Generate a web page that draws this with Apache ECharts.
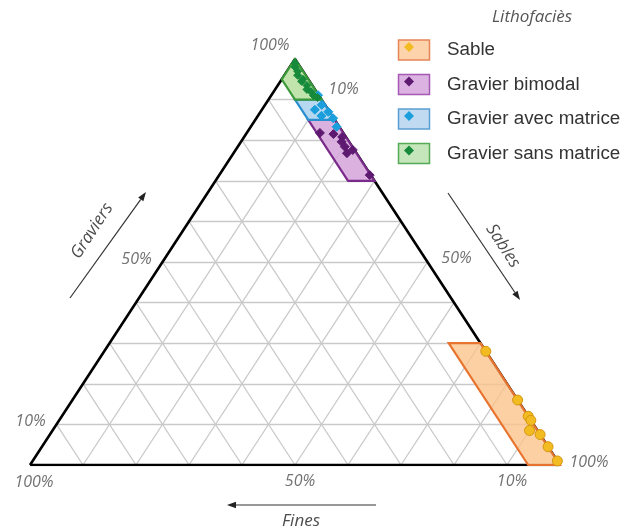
<!DOCTYPE html>
<html><head><meta charset="utf-8">
<script src="https://cdn.jsdelivr.net/npm/echarts@6/dist/echarts.min.js"></script>
<style>html,body{margin:0;padding:0;background:#fff}#c{width:629px;height:532px}</style>
</head><body><div id="c"></div>
<script>
// ---- data (ternary compositions: [gravel, sand, fines]) ----
const gridSteps = [0.1,0.2,0.3,0.4,0.5,0.6,0.7,0.8,0.9];
const gravelTickValues = [0.1, 0.5, 1];
const gravelTickLabels = ['10%','50%','100%'];
const sandTickValues = [0.1, 0.5, 1];
const sandTickLabels = ['10%','50%','100%'];
const finesTickValues = [0.1, 0.5, 1];
const finesTickLabels = ['10%','50%','100%'];
const axisTitles = ['Graviers','Sables','Fines'];
const legendTitle = 'Lithofaciès';
const faciesNames = ['Sable','Gravier bimodal','Gravier avec matrice','Gravier sans matrice'];

const zoneSable = [[0,1,0],[0.3,0.7,0],[0.3,0.64,0.06],[0,0.94,0.06]];
const zoneBimodal = [[0.85,0.15,0],[0.7,0.3,0],[0.7,0.25,0.05],[0.85,0.1,0.05]];
const zoneAvecMatrice = [[0.9,0.1,0],[0.85,0.15,0],[0.85,0.1,0.05],[0.9,0.05,0.05]];
const zoneSansMatrice = [[1,0,0],[0.9,0.1,0],[0.9,0.05,0.05],[0.95,0,0.05]];

const ptsSable = [[0.28,0.72,0],[0.16,0.84,0],[0.12,0.88,0],[0.11,0.89,0],[0.085,0.9,0.015],[0.075,0.925,0],[0.045,0.955,0],[0.01,0.99,0]];
const ptsBimodal = [[0.818,0.138,0.044],[0.815,0.165,0.02],[0.808,0.185,0.007],[0.796,0.19,0.014],[0.784,0.202,0.014],[0.768,0.214,0.018],[0.776,0.221,0.003],[0.714,0.284,0.002]];
const ptsAvecMatrice = [[0.911,0.088,0.001],[0.887,0.107,0.006],[0.87,0.128,0.002],[0.854,0.145,0.001],[0.833,0.162,0.005],[0.875,0.1,0.025],[0.86,0.12,0.02]];
const ptsSansMatrice = [[0.99,0.005,0.005],[0.98,0.01,0.01],[0.97,0.02,0.01],[0.96,0.025,0.015],[0.95,0.04,0.01],[0.945,0.04,0.015],[0.935,0.055,0.01],[0.925,0.06,0.015],[0.92,0.07,0.01],[0.91,0.08,0.01],[0.905,0.09,0.005]];

// ---- helpers ----
function toXY(p){ return [p[1] + p[0]/2, p[0]]; }

const chart = echarts.init(document.getElementById('c'), null, {renderer:'canvas'});

// grid lines
const gridLines = [];
gridSteps.forEach(t => {
  gridLines.push({coords:[toXY([t,0,1-t]), toXY([t,1-t,0])]});
  gridLines.push({coords:[toXY([0,t,1-t]), toXY([1-t,t,0])]});
  gridLines.push({coords:[toXY([0,1-t,t]), toXY([1-t,0,t])]});
});

const zones = [zoneSable, zoneBimodal, zoneAvecMatrice, zoneSansMatrice];
const zoneFill = ['rgba(251,196,140,0.8)','rgba(214,168,220,0.9)','rgba(178,214,240,0.95)','rgba(190,226,168,0.95)'];
const zoneStroke = ['#e8732e','#7a2a8a','#2a8fcf','#3a9a3a'];
const markerColor = ['#f2bb22','#5e1a70','#1a9edc','#168a3a'];
const markerBorder = ['#d4960e','#5e1a70','#1a9edc','#168a3a'];
const markerSymbol = ['circle','diamond','diamond','diamond'];
const markerSize = [10,9,9,8];
const pts = [ptsSable, ptsBimodal, ptsAvecMatrice, ptsSansMatrice];

const series = [];
series.push({type:'lines', coordinateSystem:'cartesian2d', silent:true, z:1,
  lineStyle:{color:'#c9c9c9', width:1.3, opacity:1}, data:gridLines});
series.push({type:'line', silent:true, z:2, symbol:'none',
  lineStyle:{color:'#000', width:2.6}, data:[toXY([0,0,1]), toXY([0,1,0]), toXY([1,0,0]), toXY([0,0,1])]});
zones.forEach((zn, i) => {
  series.push({type:'custom', z:3, silent:true, clip:false, data:[[i]],
    renderItem:(params, api) => {
      const z = zones[api.value(0)];
      return {type:'polygon', shape:{points: z.map(p => api.coord(toXY(p)))},
        style:{fill: zoneFill[i], stroke: zoneStroke[i], lineWidth: 2.2, lineJoin:'miter'}};
    }});
});
pts.forEach((ps, i) => {
  series.push({type:'scatter', name: faciesNames[i], z:4, symbol: markerSymbol[i], symbolSize: markerSize[i],
    itemStyle:{color: markerColor[i], borderColor: markerBorder[i], borderWidth: 1, opacity:1},
    data: ps.map(toXY)});
});

// tick labels
const tickFont = {fontFamily:'Open Sans', fontStyle:'italic', fontSize:16, color:'#4d4d4d'};
const labelData = [];
gravelTickValues.forEach((v,k) => {
  const off = v === 1 ? [-25,-14] : [-26,-3];
  labelData.push({value: toXY([v,0,1-v]), label:{formatter: gravelTickLabels[k], offset: off}});
});
sandTickValues.forEach((v,k) => {
  const off = v === 1 ? [29,-3] : (v === 0.5 ? [29,-4] : [22,-10]);
  labelData.push({value: toXY([1-v,v,0]), label:{formatter: sandTickLabels[k], offset: off}});
});
finesTickValues.forEach((v,k) => {
  const off = v === 1 ? [4,17] : [5,16];
  labelData.push({value: toXY([0,1-v,v]), label:{formatter: finesTickLabels[k], offset: off}});
});
series.push({type:'scatter', z:5, silent:true, symbolSize:1, itemStyle:{color:'rgba(0,0,0,0)'},
  label:Object.assign({show:true, position:'inside', align:'center', verticalAlign:'middle'}, tickFont),
  data: labelData});

// decorations: axis titles, arrows, legend
const ang = Math.atan2(406, 265);
function arrow(x1,y1,x2,y2){
  const a = Math.atan2(y2-y1, x2-x1), L = 9, W = 3.2;
  const bx = x2 - L*Math.cos(a), by = y2 - L*Math.sin(a);
  return [
    {type:'line', shape:{x1,y1,x2:bx,y2:by}, style:{stroke:'#333', lineWidth:1.2}, silent:true},
    {type:'polygon', shape:{points:[[x2,y2],[bx - W*Math.sin(a), by + W*Math.cos(a)],[bx + W*Math.sin(a), by - W*Math.cos(a)]]}, style:{fill:'#222'}, silent:true}
  ];
}
const titleStyle = {fontFamily:'Open Sans', fontStyle:'italic', fontSize:17, fill:'#4d4d4d', align:'center', verticalAlign:'middle'};
const graphic = [];
graphic.push(...arrow(70,298,146,192));
graphic.push(...arrow(376,505,227,505));
graphic.push(...arrow(448,193,520,300));
graphic.push({type:'text', x:92, y:231, rotation: ang, style:Object.assign({text: axisTitles[0]}, titleStyle)});
graphic.push({type:'text', x:503, y:246, rotation: -ang, style:Object.assign({text: axisTitles[1]}, titleStyle)});
graphic.push({type:'text', x:301, y:521, style:Object.assign({text: axisTitles[2]}, titleStyle)});

graphic.push({type:'text', x:532, y:17, style:{text: legendTitle, fontFamily:'Open Sans', fontStyle:'italic', fontSize:17, fill:'#555', align:'center', verticalAlign:'middle'}});
const legFill = ['#fcd3aa','#dcb2e2','#c0daf2','#c4e6ba'];
const legStroke = ['#e8845a','#a55ab5','#5a9ed2','#55aa55'];
const legCenters = [50, 84.5, 119, 153.5];
faciesNames.forEach((nm, i) => {
  const cy = legCenters[i];
  graphic.push({type:'rect', shape:{x:398.5, y:cy-10, width:31, height:20}, style:{fill: legFill[i], stroke: legStroke[i], lineWidth:1.5}});
  graphic.push({type:'polygon', shape:{points:[[409,cy-8],[414,cy-3],[409,cy+2],[404,cy-3]]}, style:{fill: markerColor[i]}});
  graphic.push({type:'text', x:447, y:cy, style:{text: nm, fontFamily:'Liberation Sans', fontSize:18.8, fill:'#333', align:'left', verticalAlign:'middle'}});
});

chart.setOption({
  animation:false,
  grid:{left:30, right:69, top:59, bottom:67, containLabel:false},
  xAxis:{type:'value', min:0, max:1, show:false},
  yAxis:{type:'value', min:0, max:1, show:false},
  series: series,
  graphic: graphic
});
</script></body></html>
